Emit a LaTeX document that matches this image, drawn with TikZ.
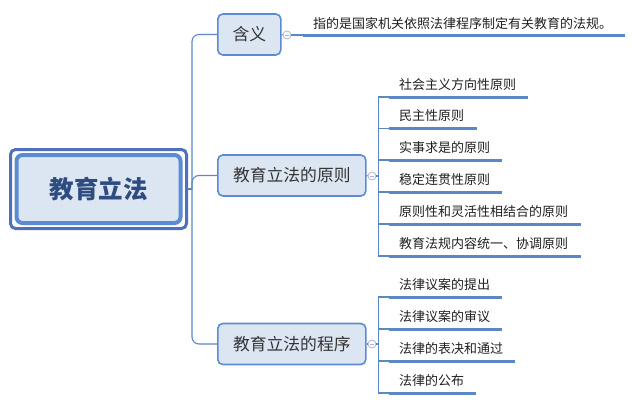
\documentclass[tikz,border=0pt]{standalone}
\usepackage{fontspec}
\setmainfont{Noto Sans CJK SC}
\usetikzlibrary{positioning}
\definecolor{lineblue}{HTML}{5B87C6}
\definecolor{boxfill}{HTML}{DCE6F3}
\definecolor{boxdraw}{HTML}{5B8BD0}
\definecolor{outerdraw}{HTML}{4E70BF}
\definecolor{roottext}{HTML}{2F4C80}
\definecolor{circdraw}{HTML}{A9B6D3}
\tikzset{
  conn/.style={draw=lineblue, line width=1.1pt},
  ul/.style={draw=lineblue, line width=3pt},
  childbox/.style={draw=boxdraw, fill=boxfill, line width=1.6pt, rounded corners=5pt,
    font=\fontsize{16.8}{18}\selectfont, text=black!80, minimum height=41pt, inner xsep=0pt, anchor=west},
  leaf/.style={anchor=south west, inner xsep=10pt, inner ysep=5.5pt, text height=11pt, text depth=2pt,
    align=left, font=\fontsize{13}{14}\selectfont, text=black!88},
  collapse/.style={circle, draw=circdraw, fill=white, line width=0.8pt, minimum size=8pt, inner sep=0pt,
    path picture={\draw[circdraw, line width=0.8pt] ([xshift=-2pt]path picture bounding box.center) -- ([xshift=2pt]path picture bounding box.center);}}
}
\newcommand{\leafnode}[4]{% name, text, y, width
  \node[leaf, text width=#4-20pt] (#1) at (389,#3) {#2};
  \draw[ul] (#1.south west) -- (#1.south east);}
\begin{document}
\begin{tikzpicture}[x=1pt,y=-1pt]
\useasboundingbox (0,0) rectangle (632,402);
% root
\node[draw=outerdraw, line width=3pt, rounded corners=5pt, fill=white, minimum width=176pt, minimum height=79pt] (rootouter) at (98.5,189) {};
\node[draw=boxdraw, fill=boxfill, line width=4pt, rounded corners=6pt, minimum width=164pt, minimum height=68pt,
  font=\fontsize{24.5}{26}\selectfont\bfseries, text=roottext] (root) at (98.5,189) {教育立法};
% children
\node[childbox, minimum width=63pt] (c1) at (217,34.5) {含义};
\node[childbox, minimum width=148pt] (c2) at (217,175.5) {教育立法的原则};
\node[childbox, minimum width=148pt] (c3) at (217,344) {教育立法的程序};
% trunk
\coordinate (t) at (192,189);
\draw[conn] (rootouter.east) -- (t);
\draw[conn, rounded corners=7pt] (t) |- (c1.west);
\draw[conn, rounded corners=7pt] (t) |- (c2.west);
\draw[conn, rounded corners=7pt] (t) |- (c3.west);
% definition
\node[collapse] (k1) at (287,35) {};
\draw[conn] (c1.east) -- (k1.west);
\node[leaf, font=\fontsize{13}{14}\selectfont, inner ysep=4.5pt, text width=302pt] (def) at (303,35) {指的是国家机关依照法律程序制定有关教育的法规。};
\draw[ul] (def.south west) -- (def.south east);
\draw[conn] (k1.east) -- (def.south west);
% principles
\node[collapse] (k2) at (372,176) {};
\draw[conn] (c2.east) -- (k2.west);
\coordinate (t2) at (378.5,176);
\draw[conn] (k2.east) -- (t2);
\leafnode{p1}{社会主义方向性原则}{97}{139pt}
\leafnode{p2}{民主性原则}{128.5}{88pt}
\leafnode{p3}{实事求是的原则}{160}{113pt}
\leafnode{p4}{稳定连贯性原则}{192}{113pt}
\leafnode{p5}{原则性和灵活性相结合的原则}{224}{192pt}
\leafnode{p6}{教育法规内容统一、协调原则}{256}{192pt}
\foreach \n in {p1,p2,p3,p4,p5,p6} \draw[conn] (t2) |- (\n.south west);
% procedures
\node[collapse] (k3) at (372,344) {};
\draw[conn] (c3.east) -- (k3.west);
\coordinate (t3) at (378.5,344);
\draw[conn] (k3.east) -- (t3);
\leafnode{q1}{法律议案的提出}{297}{113pt}
\leafnode{q2}{法律议案的审议}{329}{113pt}
\leafnode{q3}{法律的表决和通过}{361}{126pt}
\leafnode{q4}{法律的公布}{393}{87pt}
\foreach \n in {q1,q2,q3,q4} \draw[conn] (t3) |- (\n.south west);
\end{tikzpicture}
\end{document}
